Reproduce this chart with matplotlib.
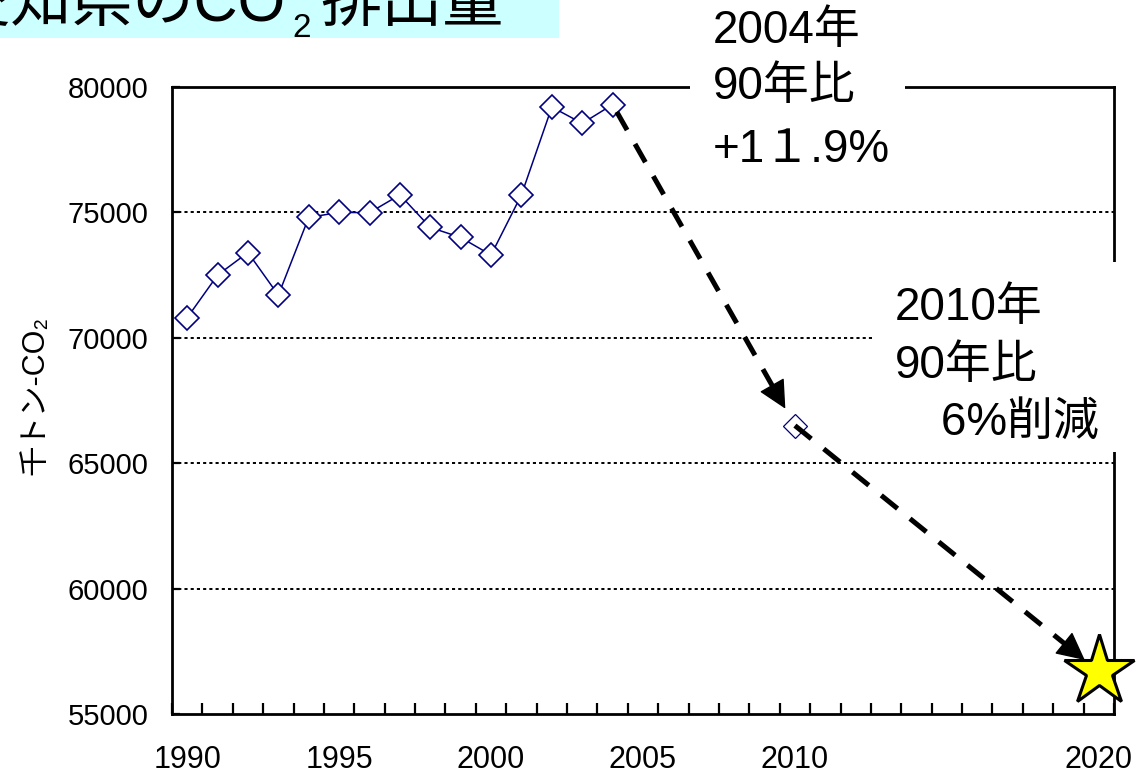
import matplotlib
matplotlib.use("Agg")
import matplotlib.pyplot as plt
from matplotlib.patches import Rectangle
import numpy as np

# ---- data -------------------------------------------------------------
years = list(range(1990, 2005))
emissions = [70800, 72500, 73400, 71700, 74800, 75000, 74990, 75700,
             74400, 74000, 73300, 75700, 79200, 78550, 79300]
year_2010 = 2010
value_2010 = 66500
year_2020 = 2020
value_2020 = 56700

x_tick_years = [1990, 1995, 2000, 2005, 2010, 2020]
y_ticks = [55000, 60000, 65000, 70000, 75000, 80000]
grid_levels = [60000, 65000, 70000, 75000]

title_main = "愛知県のCO"
title_sub = "2"
title_tail = "排出量"
ylabel_text = "千トン-CO₂"
note_2004 = ["2004年", "90年比", "+1１.9%"]
note_2010 = ["2010年", "90年比", "　6%削減"]

FONT = ["Liberation Sans", "Noto Sans CJK JP", "DejaVu Sans"]
plt.rcParams["font.family"] = FONT

W, H = 1137, 774
DPI = 100
fig = plt.figure(figsize=(W / DPI, H / DPI), dpi=DPI)


def fx(px):
    return px / W


def fy(py):
    return 1 - py / H


ax = fig.add_axes([fx(172), fy(714), fx(1114) - fx(172), fy(87) - fy(714)])
ax.set_xlim(1989.5, 2020.5)
ax.set_ylim(55000, 80000)

# dotted horizontal guides
for lvl in grid_levels:
    ax.axhline(lvl, color="black", lw=1.4, linestyle=(0, (1.6, 1.6)), zorder=1)

# measured series
ax.plot(years, emissions, color="#000080", lw=1.1, marker="D", ms=12,
        mfc="white", mec="#000080", mew=1.2, zorder=4, clip_on=False)
ax.plot([year_2010], [value_2010], linestyle="none", marker="D", ms=12,
        mfc="white", mec="#000080", mew=0.9, zorder=3)
ax.plot([year_2020], [value_2020], linestyle="none", marker="*", ms=53,
        mfc="#FFFF00", mec="black", mew=2.2, zorder=6, clip_on=False)


def dashed_arrow(start, end, shrink_start, shrink_end, head_len=18):
    """Dashed shaft with a solid filled head (all lengths in points)."""
    p0 = ax.transData.transform(start)
    p1 = ax.transData.transform(end)
    total = np.hypot(*(p1 - p0)) * 72 / DPI
    ax.annotate("", xy=end, xytext=start, zorder=5,
                arrowprops=dict(arrowstyle="-", lw=3.6, color="black",
                                linestyle=(0, (4.2, 3.2)), capstyle="butt",
                                shrinkA=shrink_start,
                                shrinkB=shrink_end + head_len * 0.8))
    ax.annotate("", xy=end, xytext=start, zorder=5,
                arrowprops=dict(arrowstyle="-|>,head_length=%.2f,head_width=%.2f"
                                % (head_len / 20, head_len / 20 * 0.5),
                                mutation_scale=20, lw=1.0, color="black",
                                shrinkA=total - shrink_end - head_len * 1.05,
                                shrinkB=shrink_end))


dashed_arrow((years[-1], emissions[-1]), (year_2010, value_2010), 6, 14)
dashed_arrow((year_2010, value_2010), (year_2020, value_2020), 0, 13)

# axes styling
for s in ax.spines.values():
    s.set_linewidth(2.0)
ax.set_xticks(x_tick_years)
ax.set_xticklabels([str(y) for y in x_tick_years])
ax.set_xticks(np.arange(1989.5, 2021.0, 1.0), minor=True)
ax.tick_params(axis="x", which="major", length=0, pad=22, labelsize=22)
ax.tick_params(axis="x", which="minor", direction="in", length=8, width=1.6)
ax.set_yticks(y_ticks)
ax.set_yticklabels([str(v) for v in y_ticks])
ax.tick_params(axis="y", direction="in", length=6, width=1.6, pad=17,
               labelsize=21)

fig.text(fx(35), fy(395), ylabel_text, rotation=90, ha="center",
         va="center", fontsize=22)

# title band
fig.add_artist(Rectangle((0, fy(38)), fx(559), 1 - fy(38),
                         transform=fig.transFigure, facecolor="#CCFFFF",
                         edgecolor="none", zorder=1))
fig.text(fx(-50), fy(21), title_main, fontsize=44, va="baseline", ha="left",
         zorder=3)
fig.text(fx(292), fy(37), title_sub, fontsize=24, va="baseline", ha="left",
         zorder=3)
fig.text(fx(320), fy(21), title_tail, fontsize=44, va="baseline", ha="left",
         zorder=3)

# callout backgrounds and texts
fig.add_artist(Rectangle((fx(690), fy(178)), fx(905) - fx(690),
                         fy(-10) - fy(178), transform=fig.transFigure,
                         facecolor="white", edgecolor="none", zorder=2))
fig.add_artist(Rectangle((fx(875), fy(452)), fx(1140) - fx(875),
                         fy(262) - fy(452), transform=fig.transFigure,
                         facecolor="white", edgecolor="none", zorder=2))
for line, base in zip(note_2004, [43, 99, 162]):
    fig.text(fx(713), fy(base), line, fontsize=33, va="baseline", ha="left",
             zorder=3)
for line, base in zip(note_2010, [320, 378, 435]):
    fig.text(fx(895), fy(base), line, fontsize=33, va="baseline", ha="left",
             zorder=3)

fig.savefig("out.png", dpi=DPI)
